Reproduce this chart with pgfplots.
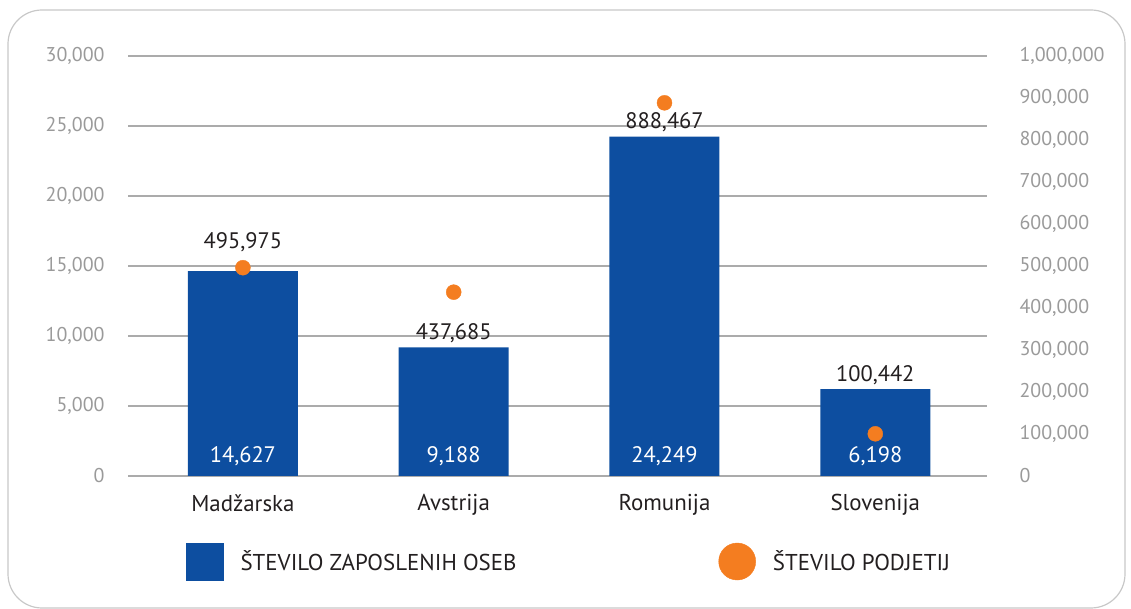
\documentclass[border=0pt]{standalone}
\usepackage{pgfplots}
\pgfplotsset{compat=1.18}
\usepackage{pgfplotstable}
\usepackage{fontspec}
\setmainfont{PT Sans}

\definecolor{barblue}{HTML}{0D4EA0}
\definecolor{dotorange}{HTML}{F47D20}
\definecolor{gridgray}{HTML}{ABABAB}
\definecolor{tickgray}{HTML}{9A9A9A}
\definecolor{txt}{HTML}{231F20}
\definecolor{frame}{HTML}{C8C8C8}

\pgfplotstableread{
x emp firms z lift emplab firmlab
0 14627 495975 0 16 14,627 495,975
1 9188 437685 0 1 9,188 437,685
2 24249 888467 0 1 24,249 888,467
3 6198 100442 0 1 6,198 100,442
}\data

\newcommand{\fs}{\fontsize{20}{24}\selectfont}
\newcommand{\fd}{\fontsize{22.5}{26}\selectfont}
\newcommand{\fl}{\fontsize{23}{27}\selectfont}

\begin{document}
\begin{tikzpicture}[x=1bp,y=1bp]
\path[use as bounding box] (0,0) rectangle (1131,609);
\draw[color=frame, line width=1.2bp, rounded corners=34bp] (8,1) rectangle (1125,599);
\begin{axis}[
  at={(128bp,133bp)}, anchor=south west,
  width=859bp, height=420bp, scale only axis,
  clip=false,
  xmin=-0.545, xmax=3.53, ymin=0, ymax=30000,
  axis line style={draw=none}, major tick style={draw=none},
  ytick={0,5000,...,30000},
  ymajorgrids, grid style={gridgray, line width=1.1bp},
  xtick={0,1,2,3}, xticklabels={Madžarska,Avstrija,Romunija,Slovenija},
  x tick label style={font=\fl, text=txt, yshift=-15bp},
  y tick label style={font=\fs, text=tickgray, xshift=-20bp},
  scaled y ticks=false,
  y tick label style={/pgf/number format/.cd, fixed, precision=0, 1000 sep={,}, assume math mode=true},
]
\addplot[ybar, bar width=110bp, fill=barblue, draw=none,
  point meta=explicit symbolic, nodes near coords,
  visualization depends on={\thisrow{lift} \as \lift},
  every node near coord/.append style={font=\fd, text=txt, anchor=south, yshift=\lift bp}]
  table[x=x, y=emp, meta=firmlab]{\data};
\addplot[draw=none, mark=none,
  point meta=explicit symbolic, nodes near coords,
  every node near coord/.append style={font=\fd, text=white, anchor=south, yshift=7bp}]
  table[x=x, y=z, meta=emplab]{\data};
\end{axis}
\begin{axis}[
  at={(128bp,133bp)}, anchor=south west,
  width=859bp, height=420bp, scale only axis,
  clip=false,
  xmin=-0.545, xmax=3.53, ymin=0, ymax=1000000,
  axis x line=none, axis y line*=right,
  axis line style={draw=none}, major tick style={draw=none},
  ytick={0,100000,...,1000000},
  y tick label style={font=\fs, text=tickgray, anchor=west, xshift=29bp},
  scaled y ticks=false,
  y tick label style={/pgf/number format/.cd, fixed, precision=0, 1000 sep={,}, assume math mode=true},
  legend style={at={(axis description cs:0.0675,-0.2036)}, anchor=west,
    draw=none, fill=none, inner sep=0pt, legend columns=2,
    font=\fl, text=txt,
    /tikz/every odd column/.append style={column sep=15bp},
    /tikz/every even column/.append style={column sep=200bp}},
  legend cell align=left,
]
\addlegendimage{legend image code/.code={\fill[barblue] (0bp,-18.5bp) rectangle (37bp,18.5bp);}}
\addlegendentry{ŠTEVILO ZAPOSLENIH OSEB}
\addplot[only marks, mark=*, mark size=7.5bp, color=dotorange,
  legend image code/.code={\fill[dotorange] (18.5bp,0bp) circle (18.5bp);}]
  table[x=x, y=firms]{\data};
\addlegendentry{ŠTEVILO PODJETIJ}
\end{axis}
\end{tikzpicture}
\end{document}
